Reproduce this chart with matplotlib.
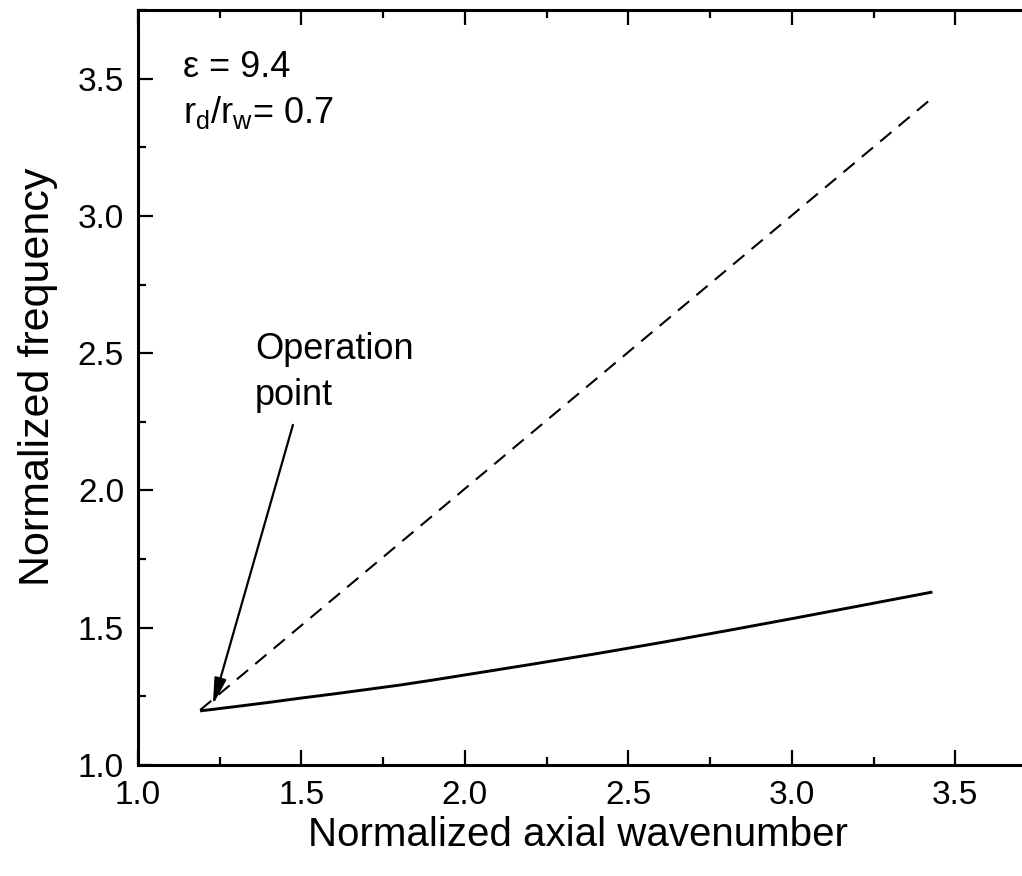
import matplotlib
matplotlib.use('Agg')
import matplotlib.pyplot as plt
from matplotlib.ticker import MultipleLocator

plt.rcParams['font.family'] = ['Liberation Sans', 'DejaVu Sans']
plt.rcParams['mathtext.fontset'] = 'custom'
plt.rcParams['mathtext.rm'] = 'Liberation Sans'
plt.rcParams['mathtext.it'] = 'Liberation Sans'

# solid curve (dispersion of the loaded waveguide)
k_solid = [1.19, 1.3, 1.4, 1.5, 1.6, 1.7, 1.8, 1.9, 2.0, 2.2, 2.4, 2.6, 2.8, 3.0, 3.2, 3.43]
w_solid = [1.197, 1.213, 1.228, 1.244, 1.259, 1.275, 1.291, 1.309, 1.328,
           1.366, 1.405, 1.446, 1.489, 1.533, 1.578, 1.630]

# dashed line (light line)
k_dash = [1.19, 3.42]
w_dash = [1.20, 3.42]

# operation point arrow: tail and tip
arrow_tail = (1.474, 2.239)
arrow_tip = (1.229, 1.219)

fig = plt.figure(figsize=(10.22, 8.76), dpi=100)
ax = fig.add_axes([138 / 1022, 111 / 876, 899 / 1022, 755 / 876])

ax.plot(k_solid, w_solid, color='black', lw=2.1, solid_capstyle='butt')
ax.plot(k_dash, w_dash, color='black', lw=1.5, dashes=(7, 4.5))

ax.annotate('', xy=arrow_tip, xytext=arrow_tail,
            arrowprops=dict(arrowstyle='-|>,head_length=0.8,head_width=0.18',
                            mutation_scale=20, color='black', lw=1.6,
                            shrinkA=0, shrinkB=0))

ax.text(1.358, 2.48, 'Operation', fontsize=26, ha='left', va='baseline')
ax.text(1.358, 2.31, 'point', fontsize=26, ha='left', va='baseline')

ax.text(1.138, 3.507, '\u03b5 = 9.4', fontsize=26, ha='left', va='baseline')
ax.text(1.138, 3.34, r'r$_{\mathrm{d}}$/r$_{\mathrm{w}}$= 0.7', fontsize=26,
        ha='left', va='baseline')

ax.set_xlim(1.0, 3.75)
ax.set_ylim(1.0, 3.75)
ticks = [1.0, 1.5, 2.0, 2.5, 3.0, 3.5]
tick_labels = ['1.0', '1.5', '2.0', '2.5', '3.0', '3.5']
ax.set_xticks(ticks)
ax.set_yticks(ticks)
ax.set_xticklabels(tick_labels, fontsize=24)
ax.set_yticklabels(tick_labels, fontsize=24)
ax.xaxis.set_minor_locator(MultipleLocator(0.25))
ax.yaxis.set_minor_locator(MultipleLocator(0.25))

ax.tick_params(which='both', direction='in', top=True, right=True, width=1.6)
ax.tick_params(which='major', length=11)
ax.tick_params(which='minor', length=5.5)
ax.tick_params(axis='x', which='major', pad=11)
ax.tick_params(axis='y', which='major', pad=10)
for s in ax.spines.values():
    s.set_linewidth(2.2)

ax.set_xlabel('Normalized axial wavenumber', fontsize=29)
ax.set_ylabel('Normalized frequency', fontsize=31)
ax.xaxis.set_label_coords((578 - 138) / 899, -(835 - 765) / 755, transform=ax.transAxes)
ax.yaxis.set_label_coords(-(138 - 38) / 899, (765 - 377) / 755, transform=ax.transAxes)
ax.xaxis.label.set_va('center')
ax.yaxis.label.set_va('center')

fig.savefig('out.png', dpi=100)
